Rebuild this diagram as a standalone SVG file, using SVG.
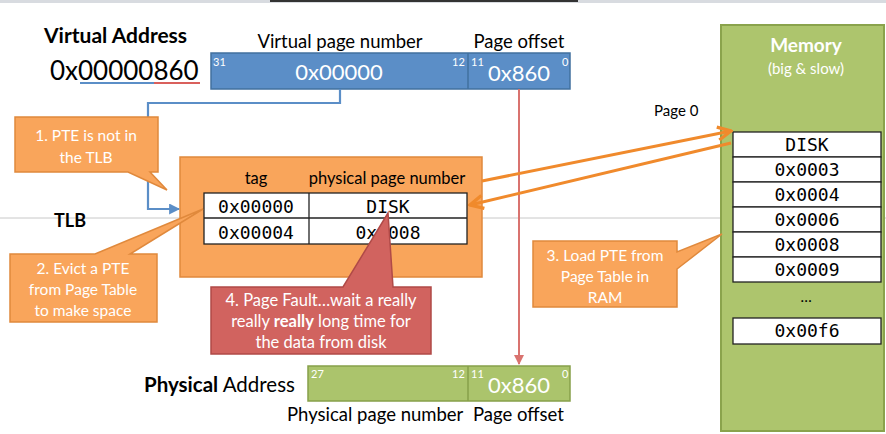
<svg xmlns="http://www.w3.org/2000/svg" width="886" height="434" viewBox="0 0 886 434">
<defs>
<style>
.t{font-family:Lato,"Open Sans","Liberation Sans",sans-serif;fill:#000}
.w{font-family:Lato,"Open Sans","Liberation Sans",sans-serif;fill:#fff}
.m{font-family:"DejaVu Sans Mono","Liberation Mono",monospace;fill:#000;font-size:18px;text-anchor:middle}
.sm{font-family:Lato,"Liberation Sans",sans-serif;fill:#fff;font-size:11px}
.call{fill:#f9a55b;stroke:#e0893c;stroke-width:1.5}
.cell{fill:#fff;stroke:#222;stroke-width:1.3}
</style>
<marker id="ab" viewBox="0 0 10 10" refX="9" refY="5" markerWidth="5" markerHeight="5" orient="auto"><path d="M0,0 L10,5 L0,10 Z" fill="#5b8ec7"/></marker>
<marker id="ar" viewBox="0 0 10 10" refX="9" refY="5" markerWidth="5" markerHeight="5" orient="auto"><path d="M0,0 L10,5 L0,10 Z" fill="#d9736f"/></marker>
<marker id="ao" viewBox="0 0 10 10" refX="9" refY="5" markerWidth="5.5" markerHeight="5.5" orient="auto"><path d="M1,1 L9,5 L1,9" fill="none" stroke="#f08a2c" stroke-width="2"/></marker>
</defs>
<rect width="886" height="434" fill="#fff"/>
<rect x="0" y="0" width="886" height="3" fill="#d8dbe0"/>
<rect x="270" y="0" width="308" height="2" fill="#333"/>
<line x1="0" y1="218" x2="886" y2="218" stroke="#c8c8c8" stroke-width="1"/>

<g id="memory">
<rect x="721" y="25" width="163" height="406" fill="#adc56d" stroke="#8aa34c" stroke-width="2"/>
<text class="w" x="806" y="52" font-size="19" font-weight="bold" text-anchor="middle">Memory</text>
<text class="w" x="806" y="74" font-size="15" text-anchor="middle">(big &amp; slow)</text>
<rect class="cell" x="733" y="132" width="148" height="25"/>
<rect class="cell" x="733" y="157" width="148" height="25"/>
<rect class="cell" x="733" y="182" width="148" height="25"/>
<rect class="cell" x="733" y="207" width="148" height="25"/>
<rect class="cell" x="733" y="232" width="148" height="25"/>
<rect class="cell" x="733" y="257" width="148" height="25"/>
<rect class="cell" x="733" y="318" width="148" height="26"/>
<text class="m" x="807" y="151">DISK</text>
<text class="m" x="807" y="176">0x0003</text>
<text class="m" x="807" y="201">0x0004</text>
<text class="m" x="807" y="226">0x0006</text>
<text class="m" x="807" y="251">0x0008</text>
<text class="m" x="807" y="276">0x0009</text>
<text class="t" x="806" y="302" font-size="15" text-anchor="middle">…</text>
<text class="m" x="807" y="337">0x00f6</text>
</g>
<text class="t" x="654" y="116" font-size="15">Page 0</text>

<g id="virtual-address">
<text class="t" x="44" y="43" font-size="21" font-weight="bold">Virtual Address</text>
<text class="t" x="50" y="80" font-size="26">0x00000860</text>
<line x1="80" y1="83" x2="154" y2="83" stroke="#5b8ec7" stroke-width="2"/>
<line x1="154" y1="83" x2="200" y2="83" stroke="#d9605c" stroke-width="2"/>
<text class="t" x="340" y="48" font-size="18.5" text-anchor="middle">Virtual page number</text>
<text class="t" x="519" y="48" font-size="18.5" text-anchor="middle">Page offset</text>
<rect x="211" y="53" width="359" height="36" fill="#5b8ec7" stroke="#41709f" stroke-width="1.5"/>
<line x1="468" y1="53" x2="468" y2="89" stroke="#41709f" stroke-width="1.5"/>
<text class="w" x="339" y="80" font-size="22" text-anchor="middle">0x00000</text>
<text class="w" x="519" y="81" font-size="22" text-anchor="middle">0x860</text>
<text class="sm" x="213" y="66">31</text>
<text class="sm" x="452" y="66">12</text>
<text class="sm" x="471" y="66">11</text>
<text class="sm" x="562" y="66">0</text>
</g>

<g id="tlb">
<text class="t" x="54" y="227" font-size="18" font-weight="bold">TLB</text>
<rect x="180" y="157" width="302" height="120" fill="#f9a55b" stroke="#e0893c" stroke-width="1.5"/>
<text class="t" x="256" y="184" font-size="16.5" text-anchor="middle">tag</text>
<text class="t" x="387" y="184" font-size="16.5" text-anchor="middle">physical page number</text>
<rect class="cell" x="204" y="193" width="263" height="51"/>
<line x1="204" y1="218" x2="467" y2="218" stroke="#222" stroke-width="1.3"/>
<line x1="309" y1="193" x2="309" y2="244" stroke="#222" stroke-width="1.3"/>
<text class="m" x="256" y="213">0x00000</text>
<text class="m" x="388" y="213">DISK</text>
<text class="m" x="256" y="239">0x00004</text>
<text class="m" x="388" y="239">0x0008</text>
</g>

<g id="physical-address">
<text class="t" x="144" y="392" font-size="20.5"><tspan font-weight="bold">Physical</tspan> Address</text>
<rect x="308" y="366" width="262" height="35" fill="#abc46c" stroke="#87a04a" stroke-width="1.5"/>
<line x1="468" y1="366" x2="468" y2="401" stroke="#87a04a" stroke-width="1.5"/>
<text class="w" x="519" y="393" font-size="22" text-anchor="middle">0x860</text>
<text class="sm" x="311" y="378">27</text>
<text class="sm" x="452" y="378">12</text>
<text class="sm" x="471" y="378">11</text>
<text class="sm" x="562" y="378">0</text>
<text class="t" x="287" y="421" font-size="18.5">Physical page number</text>
<text class="t" x="473" y="421" font-size="18.5">Page offset</text>
</g>

<g id="connectors" fill="none">
<path d="M340,89 V103 H148 V209 H179" stroke="#5b8ec7" stroke-width="2.2" marker-end="url(#ab)"/>
<path d="M519,89 V364" stroke="#d9736f" stroke-width="2" marker-end="url(#ar)"/>
<path d="M482,181 L731,131" stroke="#f08a2c" stroke-width="3" marker-end="url(#ao)"/>
<path d="M731,143 L470,205" stroke="#f08a2c" stroke-width="3" marker-end="url(#ao)"/>
</g>

<g id="callout1">
<path class="call" d="M15,117 H158 V172 H150 L167,190 L128,172 H15 Z"/>
<text class="w" x="86" y="141" font-size="15.5" text-anchor="middle">1. PTE is not in</text>
<text class="w" x="86" y="163" font-size="15.5" text-anchor="middle">the TLB</text>
</g>
<g id="callout2">
<path class="call" d="M10,254 H95 L203,209 L130,254 H157 V322 H10 Z"/>
<text class="w" x="83" y="274" font-size="15.5" text-anchor="middle">2. Evict a PTE</text>
<text class="w" x="83" y="295" font-size="15.5" text-anchor="middle">from Page Table</text>
<text class="w" x="83" y="316" font-size="15.5" text-anchor="middle">to make space</text>
</g>
<g id="callout3">
<path class="call" d="M533,241 H677 V252 L722,234 L677,269 V307 H533 Z"/>
<text class="w" x="605" y="261" font-size="15.5" text-anchor="middle">3. Load PTE from</text>
<text class="w" x="605" y="282" font-size="15.5" text-anchor="middle">Page Table in</text>
<text class="w" x="605" y="303" font-size="15.5" text-anchor="middle">RAM</text>
</g>
<g id="callout4">
<path d="M211,287 H343 L388,213 L393,287 H431 V354 H211 Z" fill="#d1635f" stroke="#b04a47" stroke-width="1.5"/>
<text class="w" x="321" y="306" font-size="16.5" text-anchor="middle">4. Page Fault…wait a really</text>
<text class="w" x="321" y="327" font-size="16.5" text-anchor="middle">really <tspan font-weight="bold">really</tspan> long time for</text>
<text class="w" x="321" y="348" font-size="16.5" text-anchor="middle">the data from disk</text>
</g>
</svg>
